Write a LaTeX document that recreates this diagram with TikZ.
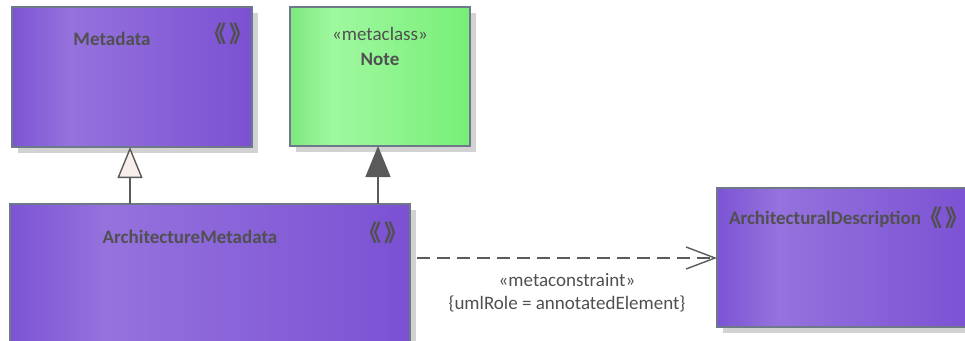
\documentclass[tikz,border=0pt]{standalone}
\usepackage{fontspec}
\setmainfont{Carlito}
\newfontfamily\cjk{Noto Sans CJK SC}
\usetikzlibrary{arrows.meta,shadows}
\definecolor{pA}{HTML}{7C54D4}
\definecolor{pB}{HTML}{9572DD}
\definecolor{pC}{HTML}{7B51D3}
\definecolor{gA}{HTML}{7EE87E}
\definecolor{gB}{HTML}{9FF89F}
\definecolor{gC}{HTML}{77EF77}
\definecolor{bord}{HTML}{6D7888}
\definecolor{txt}{HTML}{505050}
\definecolor{lin}{HTML}{5A5A5A}
\definecolor{shg}{HTML}{D2D2D2}
\definecolor{trifill}{HTML}{F8EFEA}
\pgfdeclarehorizontalshading{purpshade}{100bp}{color(0bp)=(pA); color(25bp)=(pA); color(37bp)=(pB); color(75bp)=(pC); color(100bp)=(pC)}
\pgfdeclarehorizontalshading{greenshade}{100bp}{color(0bp)=(gA); color(25bp)=(gA); color(37bp)=(gB); color(75bp)=(gC); color(100bp)=(gC)}
\newcommand{\stereoglyphs}{\kern-10pt《\kern4pt》\kern-10pt}
\tikzset{
  umlbox/.style={draw=bord, line width=1.1pt, inner sep=0pt, outer sep=0pt, anchor=north west,
    drop shadow={shadow xshift=6pt, shadow yshift=-6pt, fill=shg, opacity=1}},
  purplebox/.style={umlbox, shade, shading=purpshade},
  greenbox/.style={umlbox, shade, shading=greenshade},
  nametext/.style={font=\fontsize{19}{23}\selectfont\bfseries, text=txt, inner sep=0pt},
  plaintext/.style={font=\fontsize{19}{23}\selectfont, text=txt, inner sep=0pt, align=center},
  stereoicon/.style={font=\cjk\bfseries\fontsize{23}{23}\selectfont, text=txt, inner sep=0pt},
  conn/.style={draw=lin, line width=1.4pt}
}
\begin{document}
\begin{tikzpicture}[x=1pt, y=-1pt]
\useasboundingbox (0,0) rectangle (965,340);
\clip (0,0) rectangle (965,340);
\node[purplebox, minimum width=240pt, minimum height=140pt] (md) at (12,7) {};
\node[greenbox, minimum width=180pt, minimum height=139pt] (nt) at (290,7) {};
\node[purplebox, minimum width=400pt, minimum height=170pt] (am) at (10,204) {};
\node[purplebox, minimum width=256pt, minimum height=139pt] (ad) at (717,188) {};
% titles
\node[nametext] (mdt) at (112,39) {Metadata};
\node[stereoicon] (mdi) at (228,34) {\stereoglyphs};
\node[plaintext] (nts) at (380,34) {«metaclass»};
\node[nametext] (ntt) at (380,59) {Note};
\node[nametext] (amt) at (190,237) {ArchitectureMetadata};
\node[stereoicon] (ami) at (383,233) {\stereoglyphs};
\node[nametext] (adt) at (825,219) {ArchitecturalDescription};
\node[stereoicon] (adi) at (944,218) {\stereoglyphs};
% connectors
\coordinate (gx) at (130,0);
\coordinate (cx) at (378,0);
\coordinate (dy) at (0,258);
\draw[conn, -{Triangle[length=31pt, width=25pt, fill=trifill]}] (gx |- am.north) -- (gx |- md.south);
\draw[conn, -{Triangle[length=31pt, width=25pt, fill=lin]}] (cx |- am.north) -- (cx |- nt.south);
\draw[conn, dash pattern=on 13pt off 7pt, shorten <=7pt, -{Straight Barb[length=29pt, width=22pt]}] (am.east |- dy) -- (ad.west |- dy);
\node[plaintext] (lbl) at (567,293) {«metaconstraint»\\\{umlRole = annotatedElement\}};
\end{tikzpicture}
\end{document}
